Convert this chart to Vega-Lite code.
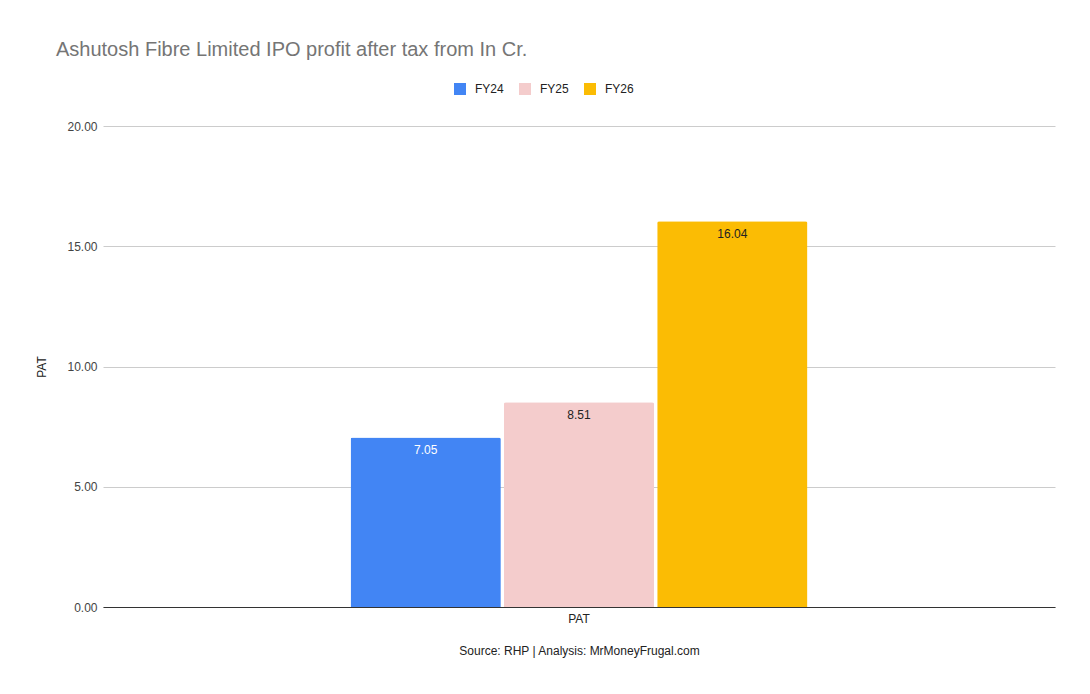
{
  "$schema": "https://vega.github.io/schema/vega-lite/v6.json",
  "autosize": "none",
  "width": 952,
  "height": 481,
  "padding": {"left": 103, "top": 126, "right": 35, "bottom": 87},
  "background": "white",
  "config": {
    "font": "Liberation Sans",
    "view": {"stroke": null}
  },
  "title": {
    "text": "Ashutosh Fibre Limited IPO profit after tax from In Cr.",
    "anchor": "start",
    "dx": 20,
    "offset": 23,
    "fontSize": 20,
    "fontWeight": "normal",
    "color": "#757575",
    "font": "Liberation Sans"
  },
  "data": {
    "values": [
      {"metric": "PAT", "year": "FY24", "value": 7.05},
      {"metric": "PAT", "year": "FY25", "value": 8.51},
      {"metric": "PAT", "year": "FY26", "value": 16.04}
    ]
  },
  "encoding": {
    "x": {
      "field": "metric",
      "type": "nominal",
      "scale": {"paddingInner": 0, "paddingOuter": 0.542},
      "axis": {
        "title": "Source: RHP | Analysis: MrMoneyFrugal.com",
        "titleFontSize": 12,
        "titleFontWeight": "normal",
        "titleColor": "#222",
        "titlePadding": 21,
        "labelAngle": 0,
        "labelFontSize": 12,
        "labelColor": "#222",
        "labelPadding": 6,
        "ticks": false,
        "domainColor": "#333",
        "grid": false
      }
    },
    "xOffset": {
      "field": "year",
      "type": "nominal",
      "scale": {"paddingInner": 0.02, "paddingOuter": 0}
    },
    "y": {
      "field": "value",
      "type": "quantitative",
      "scale": {"domain": [0, 20]},
      "axis": {
        "title": "PAT",
        "titleFontSize": 12,
        "titleFontWeight": "normal",
        "titleColor": "#222",
        "titlePadding": 18,
        "values": [0, 5, 10, 15, 20],
        "format": ".2f",
        "labelFontSize": 12,
        "labelColor": "#444",
        "labelPadding": 6,
        "ticks": false,
        "domain": false,
        "gridColor": "#cccccc"
      }
    }
  },
  "layer": [
    {
      "mark": {"type": "bar", "cornerRadiusTopLeft": 2, "cornerRadiusTopRight": 2},
      "encoding": {
        "color": {
          "field": "year",
          "type": "nominal",
          "scale": {"domain": ["FY24", "FY25", "FY26"], "range": ["#4285F4", "#F4CCCC", "#FBBC04"]},
          "legend": {
            "title": null,
            "orient": "none",
            "direction": "horizontal",
            "legendX": 351,
            "legendY": -43,
            "symbolType": "square",
            "symbolSize": 144,
            "symbolStrokeWidth": 0,
            "labelOffset": 9,
            "labelFontSize": 12,
            "labelColor": "#222",
            "columnPadding": 15,
            "symbolOpacity": 1
          }
        }
      }
    },
    {
      "mark": {"type": "text", "baseline": "top", "dy": 8, "fontSize": 12},
      "encoding": {
        "text": {"field": "value", "type": "quantitative", "format": ".2f"},
        "color": {
          "condition": {"test": "datum.year === 'FY24'", "value": "white"},
          "value": "#222"
        }
      }
    }
  ]
}
